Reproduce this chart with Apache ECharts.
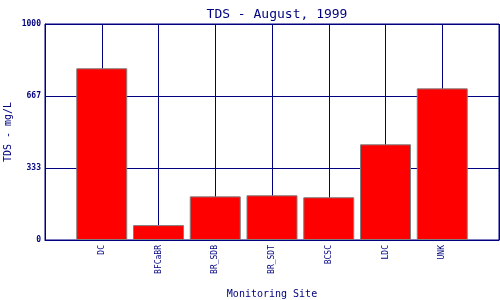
<!DOCTYPE html>
<html>
<head>
<meta charset="utf-8">
<script src="https://cdn.jsdelivr.net/npm/echarts@6/dist/echarts.min.js"></script>
<style>html,body{margin:0;padding:0;background:#fff;}#c{width:500px;height:300px;}</style>
</head>
<body>
<div id="c"></div>
<script>
const sites = ['DC', 'BFCaBR', 'BR_SDB', 'BR_SDT', 'BCSC', 'LDC', 'UNK'];
const tds = [795, 69, 202, 207, 198, 443, 702];
const yTicks = [0, 333, 667, 1000];

const navy = '#000080';
const font = 'DejaVu Sans Mono';
const cats = [''].concat(sites, ['']);
const vals = ['-'].concat(tds, ['-']);

const chart = echarts.init(document.getElementById('c'), null, {renderer: 'canvas'});
chart.setOption({
  animation: false,
  backgroundColor: '#ffffff',
  title: {
    text: 'TDS - August, 1999',
    left: 272, top: 3, textAlign: 'center',
    textStyle: {color: navy, fontFamily: font, fontSize: 13, fontWeight: 'normal'}
  },
  grid: {left: 45, right: 1, top: 24, bottom: 60, containLabel: false, outerBoundsMode: 'none',
    show: true, borderColor: navy, borderWidth: 1, backgroundColor: 'transparent'},
  xAxis: {
    type: 'category', data: cats, boundaryGap: false,
    name: 'Monitoring Site', nameLocation: 'middle', nameGap: 49, nameMoveOverlap: false,
    nameTextStyle: {color: navy, fontFamily: font, fontSize: 10},
    axisLine: {lineStyle: {color: navy, width: 1}},
    axisTick: {show: false},
    axisLabel: {rotate: 90, margin: 5, color: navy, fontFamily: font, fontSize: 8, interval: 0},
    splitLine: {show: true, lineStyle: {color: navy, width: 1}}
  },
  yAxis: {
    type: 'value', min: 0, max: 1000, interval: 1000 / 3,
    name: 'TDS - mg/L', nameLocation: 'middle', nameGap: 32, nameMoveOverlap: false,
    nameTextStyle: {color: navy, fontFamily: font, fontSize: 10},
    axisLine: {show: true, lineStyle: {color: navy, width: 1}},
    axisTick: {show: false},
    axisLabel: {margin: 4, color: navy, fontFamily: font, fontSize: 8, fontWeight: 'bold',
      formatter: v => { const r = Math.round(v); return yTicks.indexOf(r) >= 0 ? String(r) : ''; }},
    splitLine: {show: true, lineStyle: {color: navy, width: 1}}
  },
  series: [{
    type: 'bar', data: vals, barWidth: 51,
    itemStyle: {color: '#ff0000', borderColor: '#808080', borderWidth: 1},
    z: 3
  }]
});
</script>
</body>
</html>
